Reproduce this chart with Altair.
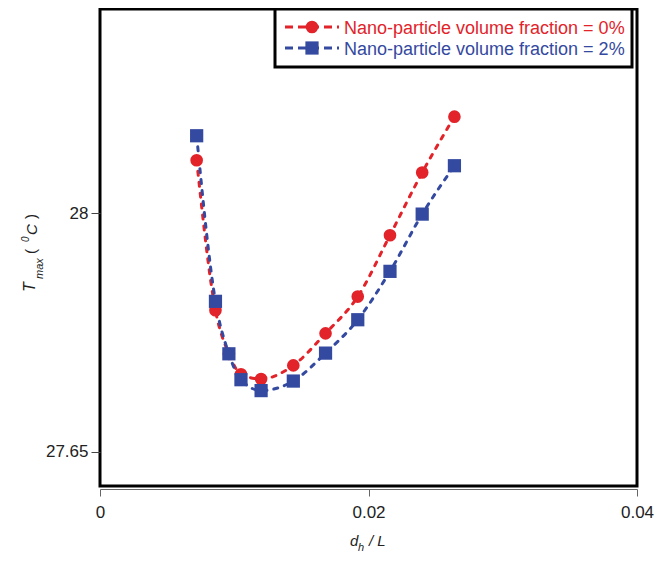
import altair as alt
import pandas as pd

# ---- data ----
x_vals = [0.0072, 0.0086, 0.0096, 0.0105, 0.0120, 0.0144, 0.0168, 0.0192, 0.0216, 0.0240, 0.0264]
t_0pct = [28.078, 27.858, 27.794, 27.764, 27.757, 27.777, 27.824, 27.878, 27.968, 28.060, 28.142]
t_2pct = [28.114, 27.871, 27.794, 27.756, 27.740, 27.754, 27.795, 27.844, 27.915, 27.999, 28.070]
series = ["Nano-particle volume fraction = 0%", "Nano-particle volume fraction = 2%"]
colors = ["#E2232A", "#3449A0"]
x_ticks = [0, 0.02, 0.04]
y_ticks = [27.65, 28]

FONT = "Liberation Sans"

df0 = pd.DataFrame({"x": x_vals, "T": t_0pct, "series": series[0]})
df1 = pd.DataFrame({"x": x_vals, "T": t_2pct, "series": series[1]})

xenc = alt.X("x:Q",
             scale=alt.Scale(domain=[0, 0.04], nice=False, zero=False),
             axis=alt.Axis(values=x_ticks, format=".2~f", title=None, grid=False,
                           offset=3, domainColor="#666666", domainWidth=1,
                           tickColor="#666666", tickSize=7, tickWidth=1,
                           labelFont=FONT, labelFontSize=17, labelColor="#222222",
                           labelPadding=8, labelFlush=False))
yenc = alt.Y("T:Q",
             scale=alt.Scale(domain=[27.6, 28.3], nice=False, zero=False),
             axis=alt.Axis(values=y_ticks, format=".2~f", title=None, grid=False,
                           domain=False, tickColor="#444444", tickSize=9, tickWidth=1,
                           labelFont=FONT, labelFontSize=17, labelColor="#222222",
                           labelPadding=3, labelFlush=False))


def line(df, c):
    return alt.Chart(df).mark_line(strokeDash=[4, 7], strokeWidth=3, strokeCap="round",
                                   interpolate="monotone", color=c).encode(x=xenc, y=yenc)


def pts(df, c, shape, size):
    return alt.Chart(df).mark_point(filled=True, opacity=1, shape=shape, size=size,
                                    color=c).encode(x=xenc, y=yenc)


one = alt.Data(values=[{"k": 1}])


def txt(s, x, y, size, color="#222222", italic=False, angle=0):
    kw = dict(font=FONT, fontSize=size, color=color, align="left",
              baseline="alphabetic")
    if italic:
        kw["fontStyle"] = "italic"
    if angle:
        kw["angle"] = angle
    return alt.Chart(one).mark_text(**kw).encode(
        x=alt.value(x), y=alt.value(y), text=alt.value(s))


# legend
leg_box = alt.Chart(one).mark_rect(fill="white", stroke="black", strokeWidth=3).encode(
    x=alt.value(175), x2=alt.value(532), y=alt.value(0), y2=alt.value(58))
leg_layers = [leg_box]
for i, (s, c, shp, sz) in enumerate(zip(series, colors, ["circle", "square"], [160, 175])):
    yy = 18 + i * 21
    leg_layers.append(alt.Chart(one).mark_rule(color=c, strokeWidth=3, strokeDash=[8, 5]).encode(
        x=alt.value(185), x2=alt.value(239), y=alt.value(yy)))
    leg_layers.append(alt.Chart(one).mark_point(filled=True, opacity=1, shape=shp, size=sz,
                                                color=c).encode(x=alt.value(212), y=alt.value(yy)))
    leg_layers.append(txt(s, 244, yy + 6.5, 18, color=c))

# axis titles built from pieces (sub/superscripts)
title_layers = [
    txt("d", 250, 537, 15, italic=True),
    txt("h", 258, 542, 11, italic=True),
    txt("/ L", 269, 537, 15, italic=True),
    txt("T", -65, 283, 16, italic=True, angle=270),
    txt("max", -57, 270, 11, italic=True, angle=270),
    txt("(", -64, 245, 15, angle=270),
    txt("0", -71, 233, 10, italic=True, angle=270),
    txt("C", -63, 226, 15, italic=True, angle=270),
    txt(")", -64, 210, 15, angle=270),
]

chart = alt.layer(
    line(df0, colors[0]),
    line(df1, colors[1]),
    pts(df0, colors[0], "circle", 160),
    pts(df1, colors[1], "square", 175),
    *leg_layers,
    *title_layers,
).properties(
    width=537, height=477,
    padding={"left": 92, "top": 1, "right": 26, "bottom": 70},
    autosize=alt.AutoSizeParams(type="none"),
).configure_view(stroke="black", strokeWidth=3)

chart.save("out.html", embed_options={"renderer": "svg", "actions": False})
